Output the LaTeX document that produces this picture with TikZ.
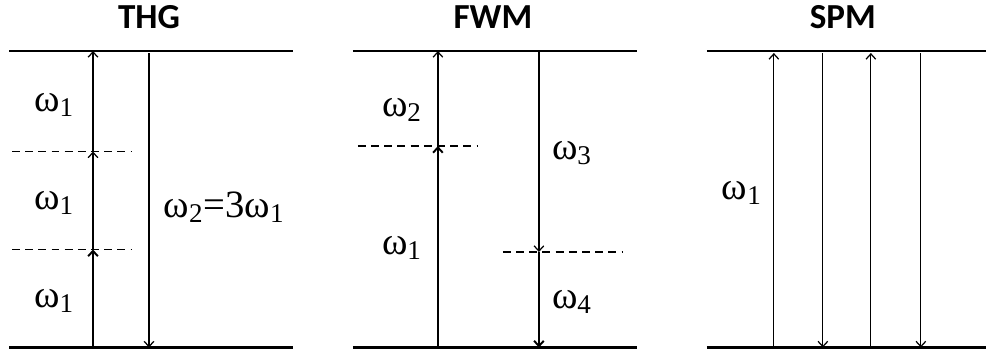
\documentclass[tikz,border=0pt]{standalone}
\usepackage{fontspec}
\setmainfont{Carlito}
\newfontfamily\grkfont{Liberation Serif}
\usetikzlibrary{arrows.meta}
\newcommand{\om}[1]{ω\textsubscript{#1}}
\tikzset{
  level/.style={line width=1.5pt},
  virt/.style={line width=0.6pt,dash pattern=on 4.5pt off 3pt},
  photon/.style={line width=0.7pt},
  strong/.style={line width=1.1pt},
  heading/.style={font=\bfseries\fontsize{20}{24}\selectfont},
  lab/.style={font=\grkfont\fontsize{22}{26}\selectfont}
}
\begin{document}
\begin{tikzpicture}[x=0.02cm,y=-0.02cm,>={Straight Barb[length=3pt,width=5.5pt]}]
 \useasboundingbox (0,0) rectangle (986,353);
 % THG
 \begin{scope}
  \node[heading] (thg) at (149,17) {THG};
  \draw[level] (9,51) -- (293,51);
  \draw[level] (9,347.5) -- (293,347.5);
  \draw[virt] (12,151.5) -- (132,151.5);
  \draw[virt] (12,249.5) -- (132,249.5);
  \coordinate (a0) at (93,347.5);
  \coordinate (a1) at (93,249.5);
  \coordinate (a2) at (93,151.5);
  \coordinate (a3) at (93,51);
  \draw[strong,->] (a0) -- (a1);
  \draw[photon,->] (a1) -- (a2);
  \draw[photon,->] (a2) -- (a3);
  \coordinate (b0) at (149,53);
  \coordinate (b1) at (149,347.5);
  \draw[photon,->] (b0) -- (b1);
  \node[lab] (w1a) at (54,105) {\om{1}};
  \node[lab] (w1b) at (54,203) {\om{1}};
  \node[lab] (w1c) at (54,301) {\om{1}};
  \node[lab] (w2) at (224,207) {\om{2}=3\om{1}};
 \end{scope}
 % FWM
 \begin{scope}[xshift=6.88cm]
  \node[heading] (fwm) at (149,17) {FWM};
  \draw[level] (9,51) -- (293,51);
  \draw[level] (9,347.5) -- (293,347.5);
  \draw[virt] (14,146) -- (134,146);
  \draw[virt] (159,252) -- (279,252);
  \coordinate (c0) at (94,347.5);
  \coordinate (c1) at (94,146);
  \coordinate (c2) at (94,51);
  \draw[strong,->] (c0) -- (c1);
  \draw[photon,->] (c1) -- (c2);
  \coordinate (d0) at (195,51);
  \coordinate (d1) at (195,252);
  \coordinate (d2) at (195,347.5);
  \draw[photon,->] (d0) -- (d1);
  \draw[strong,->] (d1) -- (d2);
  \node[lab] (w2f) at (58,110) {\om{2}};
  \node[lab] (w1f) at (58,248) {\om{1}};
  \node[lab] (w3f) at (228,153) {\om{3}};
  \node[lab] (w4f) at (228,302) {\om{4}};
 \end{scope}
 % SPM
 \begin{scope}[xshift=13.96cm]
  \node[heading] (spm) at (145,17) {SPM};
  \draw[level] (9,51) -- (288,51);
  \draw[level] (9,347.5) -- (288,347.5);
  \coordinate (e0) at (76,347.5);
  \coordinate (e1) at (76,53);
  \draw[photon,->] (e0) -- (e1);
  \coordinate (f0) at (125,53);
  \coordinate (f1) at (125,347.5);
  \draw[photon,->] (f0) -- (f1);
  \coordinate (g0) at (173,347.5);
  \coordinate (g1) at (173,53);
  \draw[photon,->] (g0) -- (g1);
  \coordinate (h0) at (223,53);
  \coordinate (h1) at (223,347.5);
  \draw[photon,->] (h0) -- (h1);
  \node[lab] (w1s) at (44,193) {\om{1}};
 \end{scope}
\end{tikzpicture}
\end{document}
